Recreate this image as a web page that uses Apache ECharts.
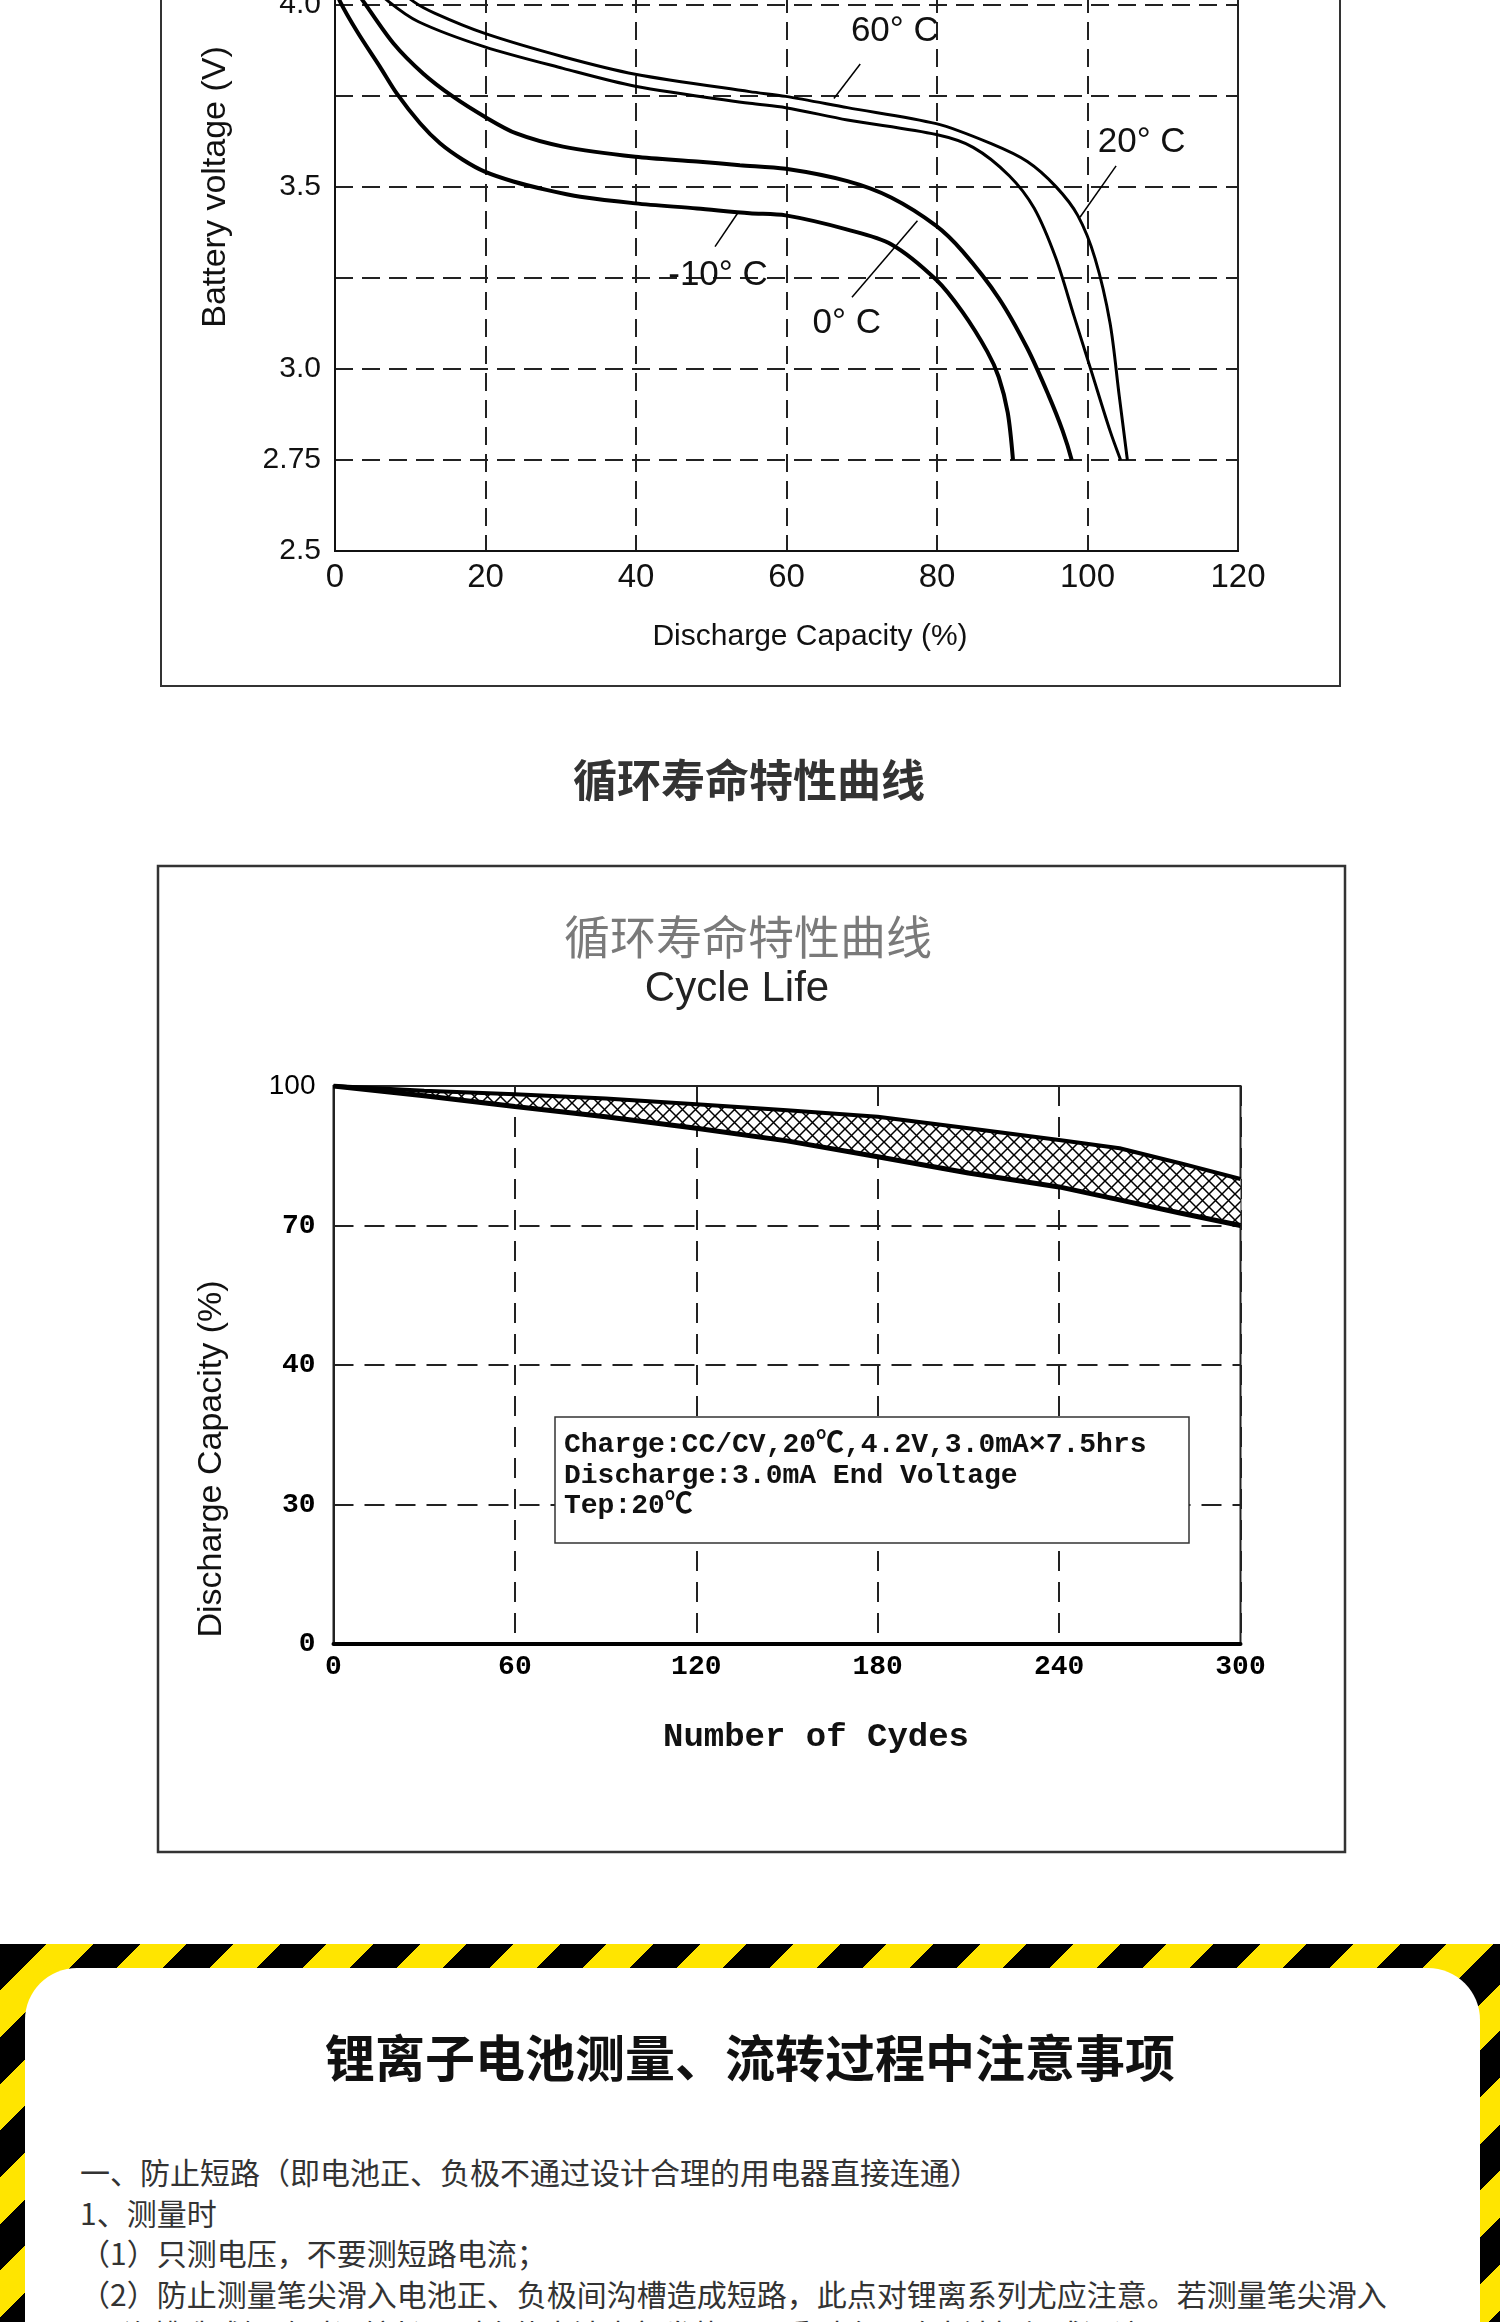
<!DOCTYPE html>
<html>
<head>
<meta charset="utf-8">
<script src="https://cdn.jsdelivr.net/npm/echarts@6/dist/echarts.min.js"></script>
<style>
html,body{margin:0;padding:0;width:1500px;height:2322px;overflow:hidden;background:#fff;}
#chart1{position:absolute;left:0;top:-100px;width:1500px;height:800px;}
#chart2{position:absolute;left:0;top:700px;width:1500px;height:1200px;}
#warn{position:absolute;left:0;top:1944px;width:1500px;height:378px;overflow:hidden;
  background:repeating-linear-gradient(135deg,#000 0px,#000 33px,#ffe500 33px,#ffe500 66px);}
#panel{position:absolute;left:25px;top:24px;width:1455px;height:420px;background:#fff;border-radius:52px 52px 0 0;}
.cjk{font-family:"Noto Sans CJK SC","Noto Sans",sans-serif;}
#title2{position:absolute;left:0;top:2020px;width:1500px;text-align:center;line-height:70px;font-size:50px;font-weight:700;color:#111;}
#body{position:absolute;left:80px;top:2151px;width:1380px;font-size:30px;line-height:40.5px;color:#333;white-space:nowrap;}
</style>
</head>
<body>
<div id="chart1"></div>
<div id="chart2"></div>
<div id="warn"><div id="panel"></div></div>
<div id="title2" class="cjk">锂离子电池测量、流转过程中注意事项</div>
<div id="body" class="cjk">
<div>一、防止短路（即电池正、负极不通过设计合理的用电器直接连通）</div>
<div>1、测量时</div>
<div>（1）只测电压，不要测短路电流；</div>
<div>（2）防止测量笔尖滑入电池正、负极间沟槽造成短路，此点对锂离系列尤应注意。若测量笔尖滑入</div>
<div style="padding-left:43px">沟槽造成短路时间较长，则会使电池内部发热，严重时会导致电池损坏或漏液。</div>
</div>
<script>
// ---------- Top chart: discharge curves at different temperatures ----------
const X1_TICK_VALUES = [0, 20, 40, 60, 80, 100, 120];
const Y1_TICK_VALUES = [2.5, 2.75, 3.0, 3.5, 4.0];
const Y1_TICK_LABELS = ['2.5', '2.75', '3.0', '3.5', '4.0'];

const SERIES_NAMES = ['-10° C', '0° C', '60° C', '20° C'];
// -10 °C
const CAP_M10 = [0, 0.66, 3, 5.98, 8.2, 11.3, 13.95, 17.05, 19.9, 23.7, 28.1, 32.6, 39.9, 48.1, 55.1, 59.9, 68.1, 73.9, 79.9, 83.4, 86.7, 88.2, 89.4, 90.1];
const VOLT_M10 = [4.05, 4.01, 3.925, 3.83, 3.757, 3.675, 3.62, 3.574, 3.542, 3.515, 3.492, 3.473, 3.455, 3.441, 3.428, 3.422, 3.383, 3.343, 3.245, 3.156, 3.047, 2.978, 2.88, 2.75];
// 0 °C
const CAP_0 = [0, 3.77, 7.75, 11.7, 15.7, 19.9, 24.1, 30.3, 39.9, 48.1, 53.8, 59.9, 68.1, 73.9, 79.9, 83.4, 88.2, 92.0, 94.8, 96.7, 97.9];
const VOLT_0 = [4.12, 4.01, 3.895, 3.812, 3.748, 3.693, 3.647, 3.611, 3.583, 3.57, 3.56, 3.55, 3.516, 3.471, 3.393, 3.323, 3.195, 3.057, 2.929, 2.83, 2.75];
// 60 °C
const CAP_60 = [0, 3.5, 7.1, 11.1, 19.9, 30.3, 39.9, 55.1, 59.9, 68.1, 79.9, 84.8, 89.6, 92.9, 95.8, 98.2, 100.6, 103.0, 104.4];
const VOLT_60 = [4.16, 4.08, 4.01, 3.954, 3.885, 3.826, 3.777, 3.73, 3.718, 3.684, 3.644, 3.609, 3.531, 3.442, 3.304, 3.146, 2.988, 2.83, 2.75];
// 20 °C
const CAP_20 = [0, 5, 10.4, 13.3, 19.9, 30.3, 39.9, 55.1, 59.9, 68.1, 79.9, 87.2, 92.0, 95.8, 98.7, 101.0, 103.0, 104.2, 105.3];
const VOLT_20 = [4.2, 4.1, 4.01, 3.977, 3.922, 3.858, 3.81, 3.762, 3.749, 3.718, 3.674, 3.619, 3.57, 3.501, 3.422, 3.304, 3.126, 2.929, 2.75];

// curve labels (data coords) and leader lines
const LABEL_POS = [[50.9, 3.258], [68.0, 3.126], [74.4, 3.929], [107.2, 3.624]];
const LEADER_FROM = [[53.5, 3.428], [77.4, 3.407], [69.8, 3.838], [103.8, 3.558]];
const LEADER_TO = [[50.5, 3.336], [68.7, 3.197], [66.3, 3.743], [99.0, 3.417]];

// ---------- Bottom chart: cycle life ----------
const X2_TICK_VALUES = [0, 60, 120, 180, 240, 300];
const Y2_TICK_LABELS = ['0', '30', '40', '70', '100'];   // equally spaced on the drawn axis
const CYCLES = [0, 30, 60, 90, 120, 150, 180, 210, 240, 260, 280, 300];
const CAPACITY_UPPER = [100, 99.0, 98.2, 97.3, 96.1, 94.8, 93.4, 90.9, 88.4, 86.6, 83.4, 80.0];
const CAPACITY_LOWER = [100, 97.9, 95.6, 93.4, 90.9, 88.2, 84.8, 81.3, 78.3, 75.5, 72.7, 70.0];
const NOTE_LINES = ['Charge:CC/CV,20℃,4.2V,3.0mA×7.5hrs', 'Discharge:3.0mA End Voltage', 'Tep:20℃'];

// axis scale of the bottom chart: labels 0,30,40,70,100 at equal steps
const Y2_LABEL_VALUES = Y2_TICK_LABELS.map(Number);
function toAxis(v) {
  for (let i = 1; i < Y2_LABEL_VALUES.length; i++) {
    const a = Y2_LABEL_VALUES[i - 1], b = Y2_LABEL_VALUES[i];
    if (v <= b) return (i - 1) * 25 + (v - a) / (b - a) * 25;
  }
  return 100;
}

// hatch pattern
const hatch = document.createElement('canvas');
hatch.width = 13; hatch.height = 13;
(function () {
  const g = hatch.getContext('2d');
  g.fillStyle = '#fff'; g.fillRect(0, 0, 13, 13);
  g.strokeStyle = '#000'; g.lineWidth = 1.5;
  g.beginPath(); g.moveTo(0, 0); g.lineTo(13, 13); g.moveTo(13, 0); g.lineTo(0, 13); g.stroke();
})();

const SANS = '"Liberation Sans", Arial, sans-serif';
const MONO = '"Liberation Mono", "Noto Sans CJK SC", monospace';
const DY1 = 100;   // chart1 div starts 100px above the page
const DY2 = -700;  // chart2 div starts at page y 700

// ================= chart 1 =================
const chart1 = echarts.init(document.getElementById('chart1'));
const topCurves = [[CAP_M10, VOLT_M10, 4], [CAP_0, VOLT_0, 4], [CAP_60, VOLT_60, 3], [CAP_20, VOLT_20, 3]];
const topSeries = topCurves.map((c, i) => ({
  type: 'line', name: SERIES_NAMES[i],
  data: c[0].map((x, k) => [x, c[1][k]]),
  smooth: 0.3, showSymbol: false, symbol: 'none',
  lineStyle: { color: '#000', width: c[2] }, z: 3,
  markLine: {
    silent: true, symbol: ['none', 'none'], animation: false,
    lineStyle: { color: '#000', width: 1.5, type: 'solid' }, label: { show: false },
    data: [[{ coord: LEADER_FROM[i] }, { coord: LEADER_TO[i] }]]
  },
  markPoint: {
    symbol: 'rect', symbolSize: [1, 1], itemStyle: { color: 'rgba(0,0,0,0)' },
    label: { show: true, position: 'inside', formatter: '{b}', color: '#111', fontFamily: SANS, fontSize: 35 },
    data: [{ name: SERIES_NAMES[i], coord: LABEL_POS[i] }]
  }
}));
chart1.setOption({
  animation: false,
  grid: { left: 335, top: -86 + DY1, width: 903, height: 637, show: true, borderColor: '#222', borderWidth: 2 },
  xAxis: {
    type: 'value', min: X1_TICK_VALUES[0], max: X1_TICK_VALUES[X1_TICK_VALUES.length - 1], interval: 20,
    axisLine: { show: true, lineStyle: { color: '#111', width: 2 } }, axisTick: { show: false },
    axisLabel: { margin: 10, color: '#111', fontFamily: SANS, fontSize: 33 },
    splitLine: { show: true, lineStyle: { color: '#222', width: 2, type: [18, 9] } }
  },
  yAxis: {
    type: 'value', min: 2.5, max: 4.25, interval: 0.25,
    axisLine: { show: true, lineStyle: { color: '#111', width: 2 } }, axisTick: { show: false },
    axisLabel: {
      margin: 14, color: '#111', fontFamily: SANS, fontSize: 30,
      formatter: v => { const i = Y1_TICK_VALUES.findIndex(t => Math.abs(t - v) < 1e-6); return i >= 0 ? Y1_TICK_LABELS[i] : ''; }
    },
    splitLine: { show: true, lineStyle: { color: '#222', width: 2, type: [18, 9] } }
  },
  series: topSeries,
  graphic: [
    { type: 'rect', z: -1, shape: { x: 161, y: -10 + DY1, width: 1179, height: 696 }, style: { fill: 'none', stroke: '#333', lineWidth: 2 } },
    { type: 'text', x: 216, y: 187 + DY1, rotation: Math.PI / 2, style: { text: 'Battery voltage (V)', font: '34px ' + SANS, fill: '#111', align: 'center', verticalAlign: 'middle' } },
    { type: 'text', x: 810, y: 637 + DY1, style: { text: 'Discharge Capacity (%)', font: '30px ' + SANS, fill: '#111', align: 'center', verticalAlign: 'middle' } }
  ]
});

// ================= chart 2 =================
const chart2 = echarts.init(document.getElementById('chart2'));
chart2.setOption({
  animation: false,
  grid: { left: 333.5, top: 1086 + DY2, width: 907, height: 558, show: true, borderColor: '#222', borderWidth: 2 },
  xAxis: {
    type: 'value', min: 0, max: 300, interval: 60,
    axisLine: { show: true, onZero: false, lineStyle: { color: '#000', width: 4 } }, axisTick: { show: false },
    axisLabel: { margin: 9, color: '#000', fontFamily: MONO, fontWeight: 'bold', fontSize: 28,
      formatter: v => X2_TICK_VALUES.includes(v) ? String(v) : '' },
    splitLine: { show: true, lineStyle: { color: '#222', width: 2, type: [20, 11] } }
  },
  yAxis: {
    type: 'value', min: 0, max: 100, interval: 25,
    axisLine: { show: true, onZero: false, lineStyle: { color: '#222', width: 2 } }, axisTick: { show: false },
    axisLabel: {
      margin: 18,
      formatter: v => { const l = Y2_TICK_LABELS[Math.round(v / 25)]; return l === '100' ? '{s|100}' : '{m|' + l + '}'; },
      rich: {
        s: { fontFamily: SANS, fontSize: 28, color: '#000' },
        m: { fontFamily: MONO, fontWeight: 'bold', fontSize: 28, color: '#000' }
      }
    },
    splitLine: { show: true, lineStyle: { color: '#222', width: 2, type: [20, 11] } }
  },
  series: [
    {
      type: 'custom', name: 'band', silent: true, z: 3, clip: true,
      data: [[CYCLES[0], toAxis(CAPACITY_UPPER[0])]],
      renderItem: (params, api) => {
        const pts = [];
        CYCLES.forEach((c, i) => pts.push(api.coord([c, toAxis(CAPACITY_UPPER[i])])));
        for (let i = CYCLES.length - 1; i >= 0; i--) pts.push(api.coord([CYCLES[i], toAxis(CAPACITY_LOWER[i])]));
        return { type: 'polygon', shape: { points: pts }, style: { fill: { image: hatch, repeat: 'repeat' }, stroke: null } };
      }
    },
    {
      type: 'line', name: 'upper', data: CYCLES.map((c, i) => [c, toAxis(CAPACITY_UPPER[i])]),
      smooth: false, showSymbol: false, symbol: 'none', lineStyle: { color: '#000', width: 4 }, z: 4
    },
    {
      type: 'line', name: 'lower', data: CYCLES.map((c, i) => [c, toAxis(CAPACITY_LOWER[i])]),
      smooth: false, showSymbol: false, symbol: 'none', lineStyle: { color: '#000', width: 5 }, z: 5
    }
  ],
  graphic: [
    { type: 'text', x: 749, y: 780 + DY2, style: { text: '循环寿命特性曲线', font: 'bold 44px "Noto Sans CJK SC"', fill: '#333', align: 'center', verticalAlign: 'middle' } },
    { type: 'rect', z: -1, shape: { x: 158, y: 866 + DY2, width: 1187, height: 986 }, style: { fill: 'none', stroke: '#333', lineWidth: 2.5 } },
    { type: 'text', x: 748, y: 937 + DY2, style: { text: '循环寿命特性曲线', font: '46px "Noto Sans CJK SC"', fill: '#7a7a7a', align: 'center', verticalAlign: 'middle' } },
    { type: 'text', x: 737, y: 989 + DY2, style: { text: 'Cycle Life', font: '42px ' + SANS, fill: '#222', align: 'center', verticalAlign: 'middle' } },
    { type: 'text', x: 212, y: 1459 + DY2, rotation: Math.PI / 2, style: { text: 'Discharge Capacity (%)', font: '34px ' + SANS, fill: '#111', align: 'center', verticalAlign: 'middle' } },
    { type: 'text', x: 816, y: 1737 + DY2, style: { text: 'Number of Cydes', font: 'bold 34px ' + MONO, fill: '#111', align: 'center', verticalAlign: 'middle' } },
    { type: 'rect', z: 10, shape: { x: 555, y: 1417 + DY2, width: 634, height: 126 }, style: { fill: '#fff', stroke: '#333', lineWidth: 1.5 } },
    { type: 'text', z: 11, x: 564, y: 1445 + DY2, style: { text: NOTE_LINES[0], font: 'bold 28px ' + MONO, fill: '#111', align: 'left', verticalAlign: 'middle' } },
    { type: 'text', z: 11, x: 564, y: 1476 + DY2, style: { text: NOTE_LINES[1], font: 'bold 28px ' + MONO, fill: '#111', align: 'left', verticalAlign: 'middle' } },
    { type: 'text', z: 11, x: 564, y: 1506 + DY2, style: { text: NOTE_LINES[2], font: 'bold 28px ' + MONO, fill: '#111', align: 'left', verticalAlign: 'middle' } }
  ]
});
</script>
</body>
</html>
